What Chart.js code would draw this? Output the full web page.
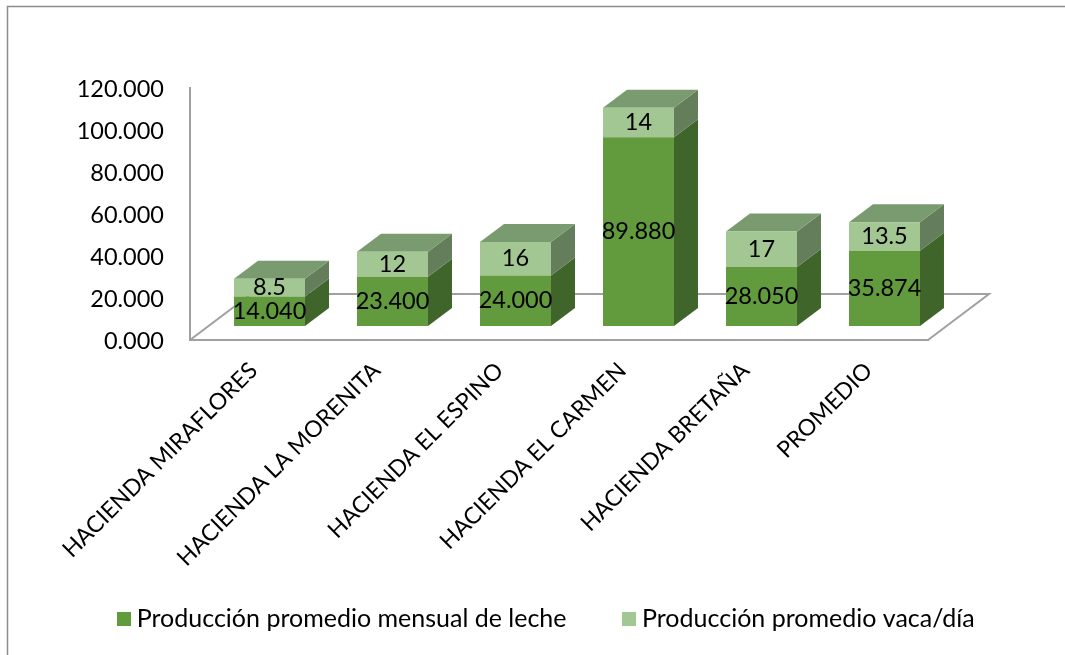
<!DOCTYPE html>
<html lang="es">
<head>
<meta charset="utf-8">
<title>Producción de leche</title>
<style>
html,body{margin:0;padding:0;background:#fff;}
canvas{display:block;}
</style>
<script src="https://cdn.jsdelivr.net/npm/chart.js@4/dist/chart.umd.min.js"></script>
</head>
<body>
<div style="width:1065px;height:655px"><canvas id="c" width="1065" height="655"></canvas></div>
<script>
const categories = ["HACIENDA MIRAFLORES","HACIENDA LA MORENITA","HACIENDA EL ESPINO","HACIENDA EL CARMEN","HACIENDA BRETAÑA","PROMEDIO"];
const mensual = [14.040,23.400,24.000,89.880,28.050,35.874];
const vacaDia = [8.5,12,16,14,17,13.5];
const mensualLabels = ["14.040","23.400","24.000","89.880","28.050","35.874"];
const vacaLabels = ["8.5","12","16","14","17","13.5"];
const seriesNames = ["Producción promedio mensual de leche","Producción promedio vaca/día"];

const FONT = 'Lato';
const COL_MENSUAL = '#629a3e';
const COL_VACA = '#a2c792';
const BAR_SHIFT = {x:18,y:-14};
const BAR_DEPTH = {x:24,y:-18};
const FLOOR_DEPTH = {x:61,y:-46};
const AXIS = '#a0a0a0';

function swatch(color){
  const c = document.createElement('canvas');
  c.width = 14; c.height = 14;
  const g = c.getContext('2d');
  g.fillStyle = color; g.fillRect(0,0,14,14);
  return c;
}

function poly(ctx, pts, fill){
  ctx.beginPath();
  pts.forEach((p,i)=> i?ctx.lineTo(p[0],p[1]):ctx.moveTo(p[0],p[1]));
  ctx.closePath();
  ctx.fillStyle = fill; ctx.fill();
}

const scene = {
  id:'scene',
  afterLayout(chart){
    const l = chart.legend;
    l.left += 16.5; l.right += 16.5;
    const d = 544 - l.top; l.top += d; l.bottom += d;
    if (l.adjustHitBoxes) l.adjustHitBoxes();
    chart.scales.x.bottom = 600;
  },
  beforeDraw(chart){
    const {ctx} = chart;
    ctx.save();
    ctx.strokeStyle = '#8c8c8c'; ctx.lineWidth = 1.5;
    ctx.beginPath();
    ctx.moveTo(7.5,655); ctx.lineTo(7.5,6.5); ctx.lineTo(1065,6.5);
    ctx.stroke();
    ctx.restore();
  },
  beforeDatasetsDraw(chart){
    const {ctx, chartArea:a} = chart;
    ctx.save();
    ctx.strokeStyle = AXIS; ctx.lineWidth = 2;
    ctx.beginPath();
    ctx.moveTo(a.left,a.bottom);
    ctx.lineTo(a.left+FLOOR_DEPTH.x,a.bottom+FLOOR_DEPTH.y);
    ctx.lineTo(a.right+FLOOR_DEPTH.x,a.bottom+FLOOR_DEPTH.y);
    ctx.lineTo(a.right,a.bottom);
    ctx.stroke();
    ctx.restore();

    ctx.save();
    ctx.translate(BAR_SHIFT.x,BAR_SHIFT.y);
    const dx = BAR_DEPTH.x, dy = BAR_DEPTH.y;
    const sideCol = ['#40652a','#647e5b'];
    chart.data.datasets.forEach((ds,i)=>{
      chart.getDatasetMeta(i).data.forEach(el=>{
        const p = el.getProps(['x','y','base','width'],true);
        const r = p.x+p.width/2, l = p.x-p.width/2;
        poly(ctx,[[r,p.base],[r+dx,p.base+dy],[r+dx,p.y+dy],[r,p.y]],sideCol[i]);
        if(i===chart.data.datasets.length-1){
          poly(ctx,[[l,p.y],[l+dx,p.y+dy],[r+dx,p.y+dy],[r,p.y]],'#7a9a70');
        }
      });
    });
  },
  afterDatasetsDraw(chart){
    const {ctx} = chart;
    const texts = [mensualLabels,vacaLabels];
    ctx.fillStyle = '#000';
    ctx.font = '23.5px '+FONT;
    ctx.textAlign = 'center';
    ctx.textBaseline = 'middle';
    chart.data.datasets.forEach((ds,i)=>{
      chart.getDatasetMeta(i).data.forEach((el,j)=>{
        const p = el.getProps(['x','y','base'],true);
        ctx.fillText(texts[i][j],p.x,(p.y+p.base)/2);
      });
    });
    ctx.restore();
  }
};

new Chart(document.getElementById('c'),{
  type:'bar',
  data:{
    labels:categories,
    datasets:[
      {label:seriesNames[0],data:mensual,backgroundColor:COL_MENSUAL,pointStyle:swatch(COL_MENSUAL),stack:'s'},
      {label:seriesNames[1],data:vacaDia,backgroundColor:COL_VACA,pointStyle:swatch(COL_VACA),stack:'s'}
    ]
  },
  options:{
    responsive:false,
    animation:false,
    events:[],
    layout:{padding:{left:0,right:0,top:88,bottom:0}},
    scales:{
      x:{
        stacked:true,
        grid:{display:false},
        border:{display:true,color:AXIS,width:2},
        ticks:{
          color:'#000',
          font:{family:FONT,size:23},
          maxRotation:45,minRotation:45,
          padding:9,labelOffset:2,autoSkip:false
        },
        afterFit(s){ s.height = 218; }
      },
      y:{
        stacked:true,
        min:0,max:120,
        grid:{display:false},
        border:{display:true,color:AXIS,width:2},
        ticks:{
          stepSize:20,color:'#000',padding:18,labelOffset:1,
          font:{family:FONT,size:23.5},
          callback:v=>v.toFixed(3)
        },
        afterFit(s){ s.width = 190; }
      },
      margenDerecho:{
        axis:'y',position:'right',display:true,
        grid:{display:false},
        border:{display:false},
        ticks:{display:false},
        afterFit(s){ s.width = 137; }
      }
    },
    datasets:{bar:{categoryPercentage:0.577,barPercentage:1}},
    plugins:{
      tooltip:{enabled:false},
      legend:{
        position:'bottom',
        labels:{
          color:'#000',
          font:{family:FONT,size:25},
          usePointStyle:true,
          boxWidth:1,boxHeight:14,padding:62
        }
      }
    }
  },
  plugins:[scene]
});
</script>
</body>
</html>
